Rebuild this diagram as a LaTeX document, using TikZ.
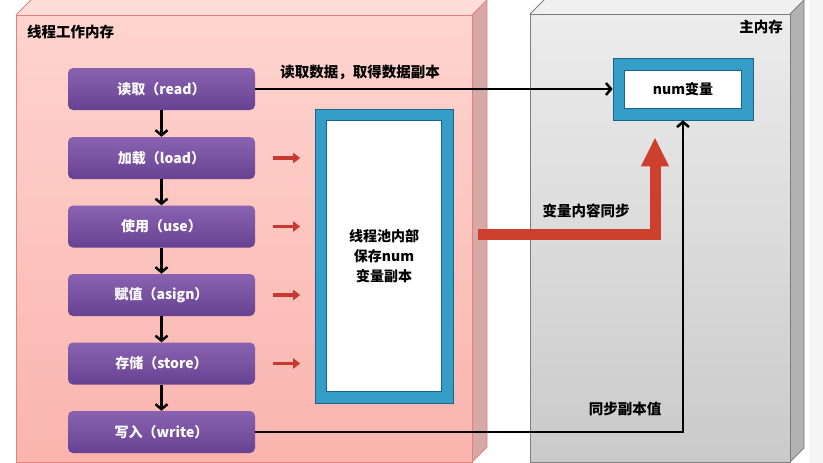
\documentclass[tikz,border=0pt]{standalone}
\usepackage{fontspec}
\setmainfont{Noto Sans CJK SC}
\usetikzlibrary{arrows.meta,calc}
\definecolor{pinkTopC}{RGB}{255,222,218}
\definecolor{pinkA}{RGB}{255,212,207}
\definecolor{pinkB}{RGB}{250,180,174}
\definecolor{pinkSide}{RGB}{214,168,166}
\definecolor{pinkEdge}{RGB}{228,128,126}
\definecolor{grayTopC}{RGB}{240,240,240}
\definecolor{grayA}{RGB}{236,236,236}
\definecolor{grayB}{RGB}{202,202,202}
\definecolor{graySide}{RGB}{178,178,178}
\definecolor{grayEdge}{RGB}{125,125,125}
\definecolor{purA}{RGB}{138,98,178}
\definecolor{purB}{RGB}{104,66,146}
\definecolor{blueF}{RGB}{52,158,200}
\definecolor{blueE}{RGB}{28,98,138}
\definecolor{redA}{RGB}{205,64,46}
\definecolor{redS}{RGB}{200,58,48}
\begin{document}
\begin{tikzpicture}[x=1pt,y=-1pt,
  pbox/.style={top color=purA, bottom color=purB, draw=none, rounded corners=5pt,
    minimum width=187pt, minimum height=42pt, inner sep=0pt, text=white,
    font=\bfseries\fontsize{14}{16}\selectfont},
  lbl/.style={text=black, inner sep=0pt, font=\bfseries\fontsize{14.5}{17}\selectfont},
  bframe/.style={fill=blueF, draw=blueE, line width=0.8pt, inner sep=0pt},
  wbox/.style={fill=white, draw=blueE, line width=0.8pt, inner sep=0pt,
    font=\bfseries\fontsize{14}{20}\selectfont, align=center},
  blk/.style={draw=black, line width=2.5pt, -{Straight Barb[length=5pt,width=12pt]}},
  redsm/.style={draw=redS, line width=3.5pt, -{Triangle[length=7pt,width=10pt]}},
  bigred/.style={draw=redA, line width=11pt, line join=miter,
    -{Triangle[length=29pt,width=26pt]}}
]
\useasboundingbox (0,0) rectangle (823,463);
\fill[black!4] (810,0) rectangle (823,463);
% pink 3D box
\fill[pinkTopC] (16,15) -- (31,0) -- (487,0) -- (472,15) -- cycle;
\fill[pinkSide] (472,15) -- (487,0) -- (487,447) -- (472,462) -- cycle;
\draw[pinkEdge, line width=0.8pt] (16,15) -- (31,0) (472,15) -- (487,0) -- (487,447) -- (472,462);
\shade[top color=pinkA, bottom color=pinkB] (16,15) rectangle (472,462);
\draw[pinkEdge, line width=0.8pt] (16,15) rectangle (472,462);
% gray 3D box
\fill[grayTopC] (530,14) -- (544,0) -- (804,0) -- (790,14) -- cycle;
\fill[graySide] (790,14) -- (804,0) -- (804,448) -- (790,462) -- cycle;
\draw[grayEdge, line width=0.8pt] (530,14) -- (544,0) (790,14) -- (804,0) -- (804,448) -- (790,462);
\shade[top color=grayA, bottom color=grayB] (530,14) rectangle (790,462);
\draw[grayEdge, line width=0.8pt] (530,14) rectangle (790,462);
% titles
\node[lbl, anchor=west] (t1) at (27,32) {线程工作内存};
\node[lbl, anchor=east] (t2) at (783,27) {主内存};
% purple steps
\node[pbox] (read) at (161.5,89) {读取（read）};
\node[pbox] (load) at (161.5,158) {加载（load）};
\node[pbox] (use) at (161.5,226.5) {使用（use）};
\node[pbox] (asign) at (161.5,295) {赋值（asign）};
\node[pbox] (store) at (161.5,363.5) {存储（store）};
\node[pbox] (write) at (161.5,432) {写入（write）};
\draw[blk] (read) -- (load);
\draw[blk] (load) -- (use);
\draw[blk] (use) -- (asign);
\draw[blk] (asign) -- (store);
\draw[blk] (store) -- (write);
% thread copy box
\node[bframe, minimum width=138pt, minimum height=294pt] (copy) at (384,256) {};
\node[wbox, minimum width=115pt, minimum height=271pt] (copyin) at (copy) {线程池内部\\保存num\\变量副本};
% small red arrows
\foreach \s in {load,use,asign,store}
  \draw[redsm] ([xshift=18pt]\s.east) -- ([xshift=45pt]\s.east);
% num variable
\node[bframe, minimum width=140pt, minimum height=62pt] (num) at (683,89) {};
\node[wbox, minimum width=117pt, minimum height=38pt] (numin) at (num) {num变量};
% connectors
\draw[blk] (read.east) -- (read.east -| num.west);
\draw[blk] (write.east) -| (num.south);
\coordinate (rs) at (478,234);
\draw[bigred, shorten >=17pt] (rs) -| ([xshift=-28pt]num.south);
% labels
\node[lbl] (l1) at (360,72) {读取数据，取得数据副本};
\node[lbl] (l2) at (586,211) {变量内容同步};
\node[lbl] (l3) at (625,409) {同步副本值};
\end{tikzpicture}
\end{document}
